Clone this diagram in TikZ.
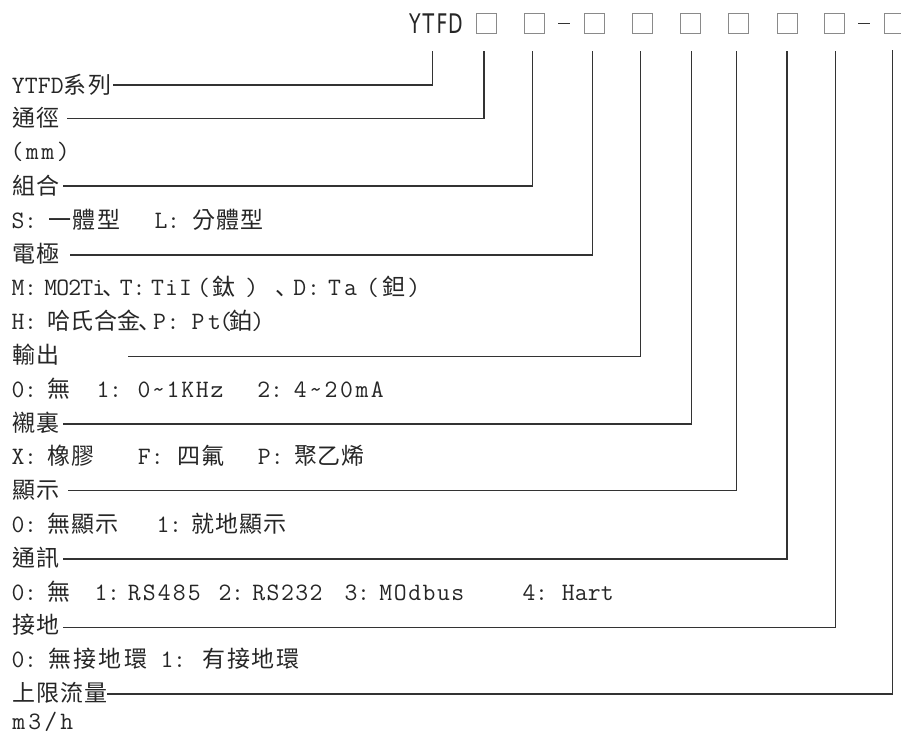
\documentclass[tikz,border=0pt]{standalone}
\usepackage{fontspec}
\newfontfamily\zhfam{Noto Sans CJK TC}
\newfontfamily\scfam{Noto Sans CJK SC}
\newfontfamily\djfam{DejaVu Sans}
\definecolor{ink}{HTML}{262626}
\definecolor{rulec}{HTML}{333333}
\definecolor{boxc}{HTML}{8A8A8A}
\newcommand\latfont{\ttfamily\fontsize{25}{30}\selectfont}
\newcommand\zhfont{\zhfam\fontsize{23}{28}\selectfont}
\newcommand\topfont{\djfam\fontsize{27}{30}\selectfont}
\def\runloop#1{\ifx#1\relax\else\makebox[\runadv pt][c]{\runfont #1}\expandafter\runloop\fi}
% Latin run: start x, cell advance, text
\newcommand\lt[3]{\rlap{\hspace*{#1pt}\def\runfont{\latfont}\def\runadv{#2}\runloop#3\relax}}
% CJK run: start x, cell advance, text
\newcommand\zh[3]{\rlap{\hspace*{#1pt}\def\runfont{\zhfont}\def\runadv{#2}\runloop#3\relax}}
% Latin char centred at x
\newcommand\pc[2]{\rlap{\hspace*{#1pt}\makebox[0pt][c]{\latfont #2}}}
% ideographic comma, cell starting at x
\newcommand\dun[1]{\rlap{\hspace*{#1pt}{\scfam\fontsize{23}{28}\selectfont 、}}}
\newcommand\sy[1]{\makebox[13.5pt][c]{\scalebox{0.7}[1]{\topfont #1}}}
\tikzset{
  rowtext/.style={anchor=base west, inner sep=0pt, text=ink},
  sq/.style={draw=boxc, line width=1pt, minimum size=20pt, inner sep=0pt},
  conn/.style={draw=rulec, line width=1.3pt},
}
\begin{document}
\begin{tikzpicture}[x=1pt,y=-1pt]
\useasboundingbox (0,0) rectangle (901,740);
% top code
\node[anchor=base west, inner sep=0pt, text=ink] (ytfd) at (408,33) {\sy{Y}\sy{T}\sy{F}\sy{D}};
\node[sq] (b1) at (486,23) {};
\node[sq] (b2) at (534,23) {};
\node[sq] (b3) at (594,23) {};
\node[sq] (b4) at (642,23) {};
\node[sq] (b5) at (690,23) {};
\node[sq] (b6) at (738,23) {};
\node[sq] (b7) at (787,23) {};
\node[sq] (b8) at (834,23) {};
\node[sq] (b9) at (894,23) {};
\fill[rulec] (558,22.6) rectangle (570,24.1);
\fill[rulec] (858,22.6) rectangle (870,24.1);
% rows
\node[rowtext] (r1) at (0,93) {\lt{11}{13}{YTFD}\zh{62}{25}{系列}};
\node[rowtext] (r2) at (0,126.8) {\zh{11}{24}{通徑}};
\node[rowtext] (r3) at (0,159) {\lt{8.5}{15.5}{(mm)}};
\node[rowtext] (r4) at (0,194.4) {\zh{11}{24}{組合}};
\node[rowtext] (r5) at (0,228.2) {\lt{11}{12.5}{S:}\zh{47}{24.5}{一體型}\lt{154}{12.5}{L:}\zh{191}{24}{分體型}};
\node[rowtext] (r6) at (0,262) {\zh{11}{24}{電極}};
\node[rowtext] (r7) at (0,295.8) {\lt{11}{12.5}{M:}\lt{44}{12}{MO2Ti}\dun{101.5}\lt{119}{13}{T:}\lt{150}{14}{TiI}\pc{203}{(}\zh{211.5}{24}{鈦}\pc{251}{)}\dun{274.5}\lt{292}{14}{D:}\lt{326}{16}{Ta}\pc{372}{(}\zh{381.5}{24}{鉭}\pc{413}{)}};
\node[rowtext] (r8) at (0,329.6) {\lt{11}{12.5}{H:}\zh{46.5}{23.4}{哈氏合金}\dun{137.5}\lt{152}{13.5}{P:}\lt{189}{16.5}{Pt}\pc{225}{(}\zh{228.5}{24}{鉑}\pc{257}{)}};
\node[rowtext] (r9) at (0,363.4) {\zh{11}{24}{輸出}};
\node[rowtext] (r10) at (0,397.2) {\lt{11}{12.5}{0:}\zh{46}{24}{無}\lt{96}{12.5}{1:}\lt{136}{14.6}{0\textasciitilde 1KHz}\lt{257}{12.5}{2:}\lt{292}{15.4}{4\textasciitilde 20mA}};
\node[rowtext] (r11) at (0,431) {\zh{11}{24}{襯裏}};
\node[rowtext] (r12) at (0,464.8) {\lt{11}{12.5}{X:}\zh{46.5}{24}{橡膠}\lt{137}{13}{F:}\zh{176.5}{24}{四氟}\lt{257}{13}{P:}\zh{293.5}{23.5}{聚乙烯}};
\node[rowtext] (r13) at (0,498.6) {\zh{11}{24}{顯示}};
\node[rowtext] (r14) at (0,532.4) {\lt{11}{12.5}{0:}\zh{46.5}{24}{無顯示}\lt{156}{12.5}{1:}\zh{190.5}{24}{就地顯示}};
\node[rowtext] (r15) at (0,566.2) {\zh{11}{24}{通訊}};
\node[rowtext] (r16) at (0,600) {\lt{11}{12.5}{0:}\zh{46.5}{24}{無}\lt{94}{12.5}{1:}\lt{126}{15}{RS485}\lt{218}{12.5}{2:}\lt{251}{14.3}{RS232}\lt{344}{12.5}{3:}\lt{378}{14.4}{MOdbus}\lt{522}{12.5}{4:}\lt{561}{13}{Hart}};
\node[rowtext] (r17) at (0,633.8) {\zh{11}{24}{接地}};
\node[rowtext] (r18) at (0,667.6) {\lt{11}{12.5}{0:}\zh{46.5}{25.3}{無接地環}\lt{160}{12.5}{1:}\zh{201}{24.7}{有接地環}};
\node[rowtext] (r19) at (0,701.4) {\zh{11}{24}{上限流量}};
\node[rowtext] (r20) at (0,729) {\lt{10}{16}{m3/h}};
% connector ends
\coordinate (s1) at (113,85);    \coordinate (t1) at (432.5,51);
\coordinate (s2) at (67,118.3);  \coordinate (t2) at (484,51);
\coordinate (s3) at (63,186);    \coordinate (t3) at (532.5,51);
\coordinate (s4) at (70,255);    \coordinate (t4) at (592.7,51);
\coordinate (s5) at (128,356.5); \coordinate (t5) at (640.5,51);
\coordinate (s6) at (63,424);    \coordinate (t6) at (691.5,51);
\coordinate (s7) at (68,490.7);  \coordinate (t7) at (736.7,51);
\coordinate (s8) at (63,559);    \coordinate (t8) at (787,51);
\coordinate (s9) at (63,627.5);  \coordinate (t9) at (835.7,51);
\coordinate (s10) at (107,694);  \coordinate (t10) at (892.2,50);
\foreach \i in {1,...,10} { \draw[conn] (s\i) -| (t\i); }
\end{tikzpicture}
\end{document}
